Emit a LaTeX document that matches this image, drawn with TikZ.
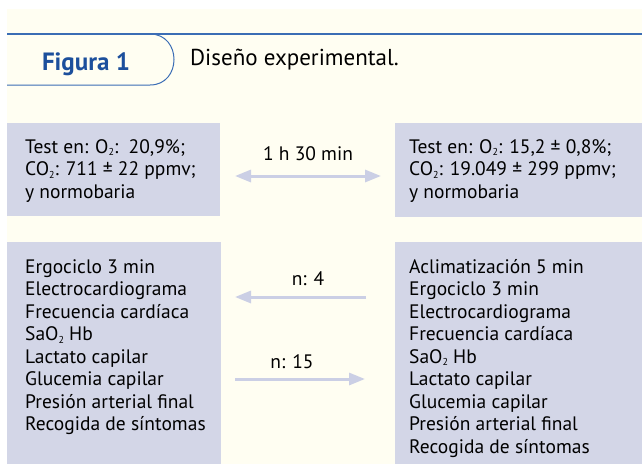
\documentclass[tikz,border=0pt]{standalone}
\usepackage{fontspec}
\setmainfont{PT Sans}
\usetikzlibrary{arrows.meta,positioning}
\definecolor{cream}{HTML}{FFFEF2}
\definecolor{lavender}{HTML}{D3D6E7}
\definecolor{arrowcol}{HTML}{CBCFE5}
\definecolor{figblue}{HTML}{1C4F9C}
\definecolor{lineblue}{HTML}{3B6DB5}
\newcommand{\subtwo}{\raisebox{-2.5pt}{\fontsize{10}{10}\selectfont 2}}
\tikzset{
  panel/.style={fill=lavender, draw=none, anchor=north west, inner sep=0pt},
  body/.style={anchor=north west, inner sep=0pt, align=left, font=\fontsize{19.5}{22.5}\selectfont},
  label/.style={font=\fontsize{19.5}{22.5}\selectfont},
  flow/.style={draw=arrowcol, line width=3pt, -{Triangle[length=16pt,width=12pt]}},
  twoway/.style={draw=arrowcol, line width=3pt, {Triangle[length=16pt,width=12pt]}-{Triangle[length=16pt,width=12pt]}}
}
\begin{document}
\begin{tikzpicture}[x=1pt,y=-1pt]
\useasboundingbox (0,0) rectangle (642,464);
\fill[cream] (7,9) rectangle (642,464);
% header
\draw[lineblue, line width=2pt] (7,34) -- (642,34);
\draw[lineblue, line width=1pt] (7,34) -- (150,34) .. controls (182,34) and (182,85) .. (150,85) -- (7,85);
\node[font=\fontsize{25}{28}\selectfont\bfseries, text=figblue, anchor=base] (fig) at (86,70) {Figura 1};
\node[font=\fontsize{23}{26}\selectfont, anchor=base west, inner sep=0pt] (title) at (190,65) {Diseño experimental.};

% boxes
\node[panel, minimum width=213pt, minimum height=93pt] (tl) at (7,123) {};
\node[panel, minimum width=247pt, minimum height=94pt] (tr) at (395,123) {};
\node[panel, minimum width=214pt, minimum height=222pt] (bl) at (7,242) {};
\node[panel, minimum width=247pt, minimum height=222pt] (br) at (395,242) {};

\node[body] (tltext) at (25,139) {Test en: O\subtwo:\ \ 20,9\%;\\CO\subtwo: 711 ± 22 ppmv;\\y normobaria};
\node[body] (trtext) at (409,139) {Test en: O\subtwo: 15,2 ± 0,8\%;\\CO\subtwo: 19.049 ± 299 ppmv;\\y normobaria};
\node[body] (bltext) at (25,259) {Ergociclo 3 min\\Electrocardiograma\\Frecuencia cardíaca\\SaO\subtwo\ Hb\\Lactato capilar\\Glucemia capilar\\Presión arterial final\\Recogida de síntomas};
\node[body] (brtext) at (409,259) {Aclimatización 5 min\\Ergociclo 3 min\\Electrocardiograma\\Frecuencia cardíaca\\SaO\subtwo\ Hb\\Lactato capilar\\Glucemia capilar\\Presión arterial final\\Recogida de síntomas};

% arrows
\coordinate (a1) at (235,176);
\coordinate (a2) at (381,176);
\coordinate (b1) at (366,297);
\coordinate (b2) at (235,297);
\coordinate (c1) at (235,379);
\coordinate (c2) at (365,379);
\path[twoway] (a1) -- (a2);
\path[flow] (b1) -- (b2);
\path[flow] (c1) -- (c2);
\node[label] (dur) at (308,154) {1 h 30 min};
\node[label] (n4) at (308,279) {n: 4};
\node[label] (n15) at (292,362) {n: 15};
\end{tikzpicture}
\end{document}
